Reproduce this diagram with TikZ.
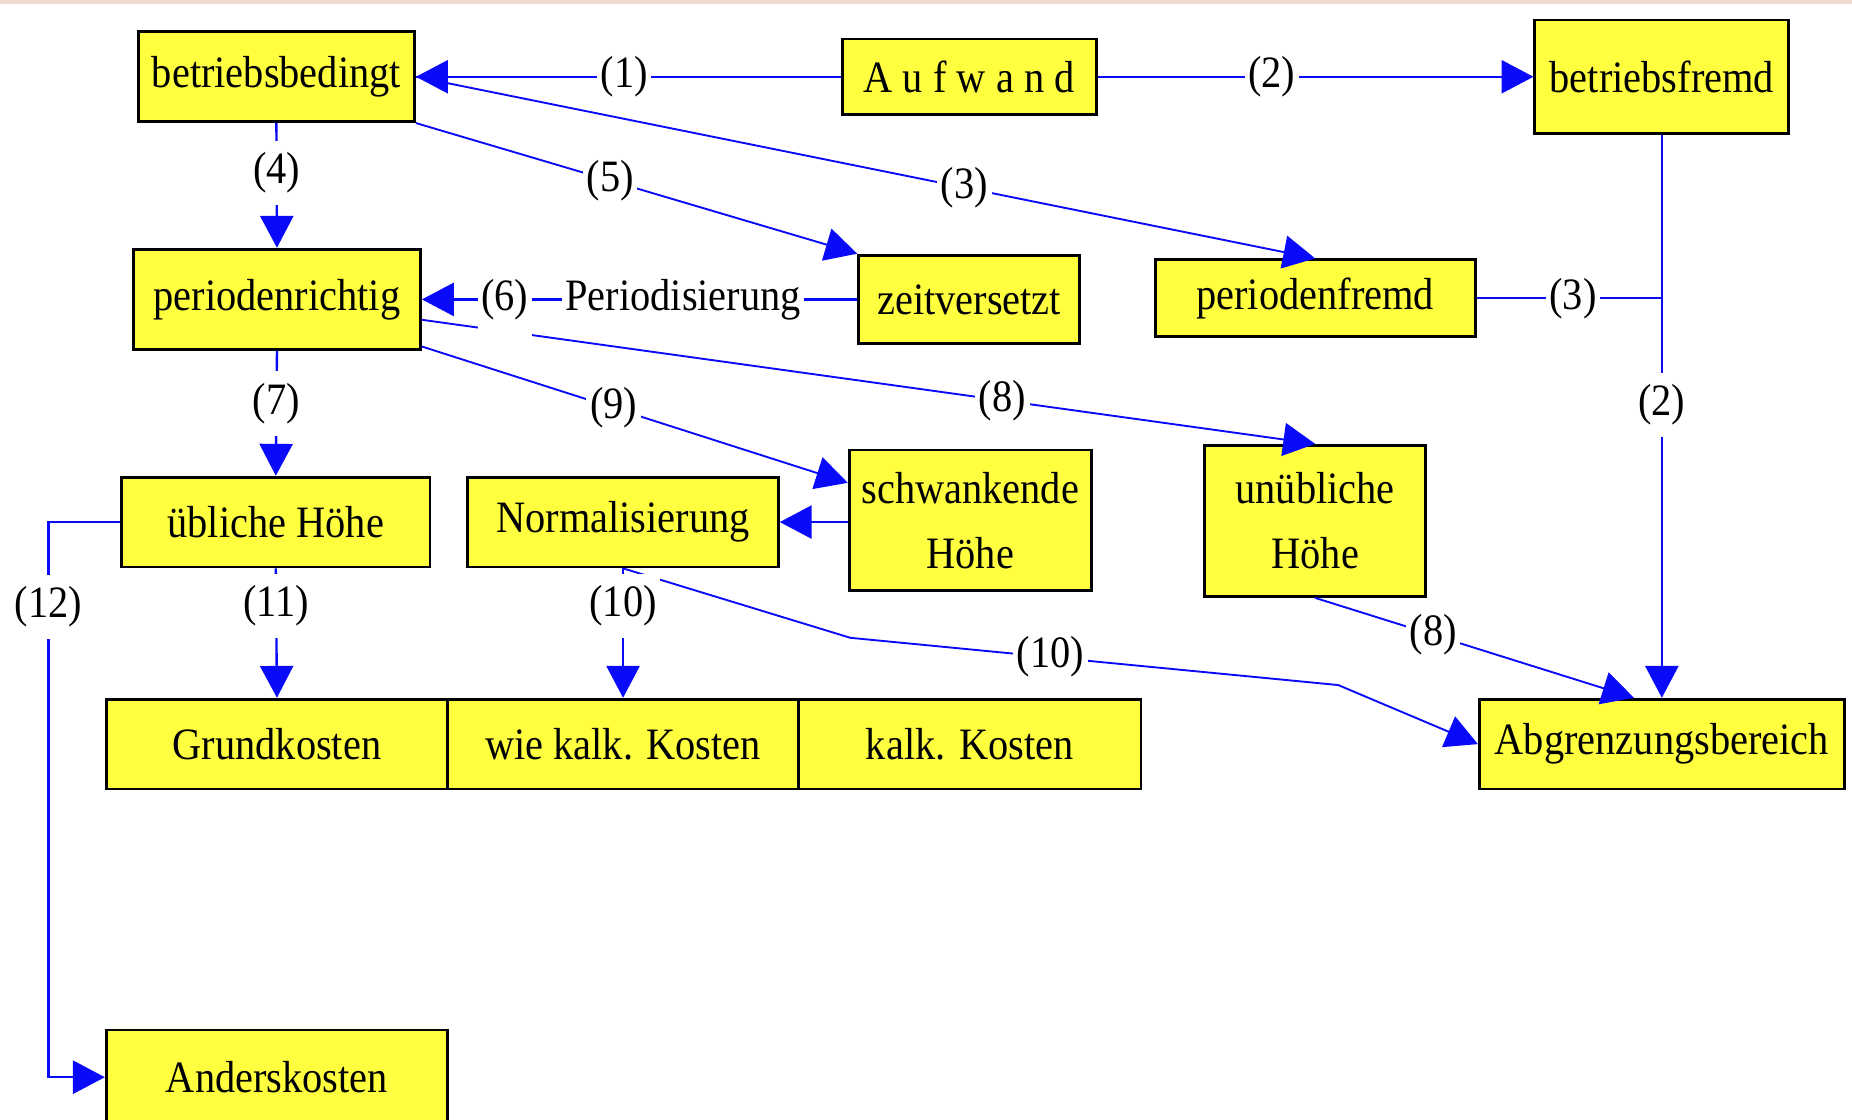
\documentclass[tikz,border=0pt]{standalone}
\usepackage{fontspec}
\setmainfont[FakeStretch=0.9]{Liberation Serif}
\usetikzlibrary{arrows.meta}
\definecolor{boxyellow}{RGB}{255,255,64}
\definecolor{edgeblue}{RGB}{10,10,250}
\definecolor{topline}{RGB}{238,218,208}
\begin{document}
\begin{tikzpicture}[x=0.5pt,y=-0.5pt,
  font=\fontsize{19pt}{27.5pt}\selectfont,
  box/.style={draw=black,line width=1.2pt,fill=boxyellow,inner sep=0pt,align=center},
  conn/.style={draw=edgeblue,line width=1pt},
  edge/.style={conn,-{Triangle[length=13.5pt,width=14pt]}},
  sline/.style={conn,line width=0.8pt},
  sedge/.style={edge,line width=0.8pt},
  lbl/.style={fill=white,inner xsep=1.5pt,inner ysep=5pt,text=black}]
\useasboundingbox (0,0) rectangle (1568,948);
\clip (0,0) rectangle (1568,948);
\fill[topline] (0,0) rectangle (1568,3);

% nodes
\node[box,minimum width=117pt,minimum height=38pt] (bb) at (234,65) {betriebsbedingt};
\node[box,minimum width=107.5pt,minimum height=32pt] (af) at (820.5,65) {A u f w a n d};
\node[box,minimum width=107.5pt,minimum height=48pt] (bf) at (1407,65) {betriebsfremd};
\node[box,minimum width=121.5pt,minimum height=42.5pt] (pr) at (234.5,253.5) {periodenrichtig};
\node[box,minimum width=93.5pt,minimum height=37.5pt] (zv) at (820.5,253.5) {zeitversetzt};
\node[box,minimum width=135.5pt,minimum height=32.5pt] (pf) at (1113.5,252.5) {periodenfremd};
\node[box,minimum width=130.5pt,minimum height=38pt] (ul) at (233.5,442) {übliche Höhe};
\node[box,minimum width=131.5pt,minimum height=38pt] (nz) at (527.5,442) {Normalisierung};
\node[box,minimum width=102.5pt,minimum height=59.5pt] (sh) at (821.5,440.5) {schwankende\\Höhe};
\node[box,minimum width=93.5pt,minimum height=64pt] (ub) at (1113.5,441) {unübliche\\Höhe};
\node[box,minimum width=144.5pt,minimum height=38pt] (gk) at (234.5,630) {Grundkosten};
\node[box,minimum width=148.5pt,minimum height=38pt] (wk) at (527.5,630) {wie kalk. Kosten};
\node[box,minimum width=145pt,minimum height=38pt] (kk) at (821,630) {kalk. Kosten};
\node[box,minimum width=154.5pt,minimum height=38pt] (ab) at (1407,630) {Abgrenzungsbereich};
\node[box,minimum width=144.5pt,minimum height=40pt] (ak) at (234.5,912) {Anderskosten};

% helper coordinates
\coordinate (j3) at (1407,252.5);
\coordinate (c10a) at (720,540);
\coordinate (c10b) at (1133,580);
\coordinate (c12a) at (41,442);
\coordinate (c12b) at (41,912);

% slanted connectors
\draw[sedge] (bb.east) -- node[lbl,pos=0.61]{(3)} (pf.north);
\draw[sedge] (bb.south east) -- node[lbl,pos=0.44]{(5)} (zv.north west);
\draw[sedge] (pr.-8) -- node[lbl,pos=0.65]{(8)} (ub.north);
\draw[sedge] (pr.-18) -- node[lbl,pos=0.45]{(9)} (sh.163);
\draw[sedge] (nz.south) -- (c10a) -- node[lbl,pos=0.41]{(10)} (c10b) -- (ab.west);
\draw[sedge] (ub.south) -- node[lbl,pos=0.37]{(8)} (ab.121);

% straight connectors
\draw[edge] (af.west) -- node[lbl,pos=0.51]{(1)} (bb.east);
\draw[edge] (af.east) -- node[lbl,pos=0.4]{(2)} (bf.west);
\draw[edge] (bb.south) -- node[lbl,pos=0.4]{(4)} (pr.north);
\draw[edge] (zv.west) -- node[lbl,pos=0.40]{Periodisierung} node[lbl,inner ysep=8pt,pos=0.81]{(6)} (pr.east);
\draw[edge] (pr.south) -- node[lbl,pos=0.42]{(7)} (ul.north);
\draw[edge] (sh.west |- nz.east) -- (nz.east);
\draw[edge] (nz.south) -- node[lbl,pos=0.29]{(10)} (wk.north);
\draw[edge] (ul.south) -- node[lbl,pos=0.29]{(11)} (gk.north);
\draw[edge] (ul.west) -- (c12a) -- node[lbl,pos=0.153]{(12)} (c12b) -- (ak.west);
\draw[edge] (bf.south) -- node[lbl,pos=0.48]{(2)} (ab.north);
\draw[conn] (pf.east) -- node[lbl,pos=0.52]{(3)} (j3);
\end{tikzpicture}
\end{document}
